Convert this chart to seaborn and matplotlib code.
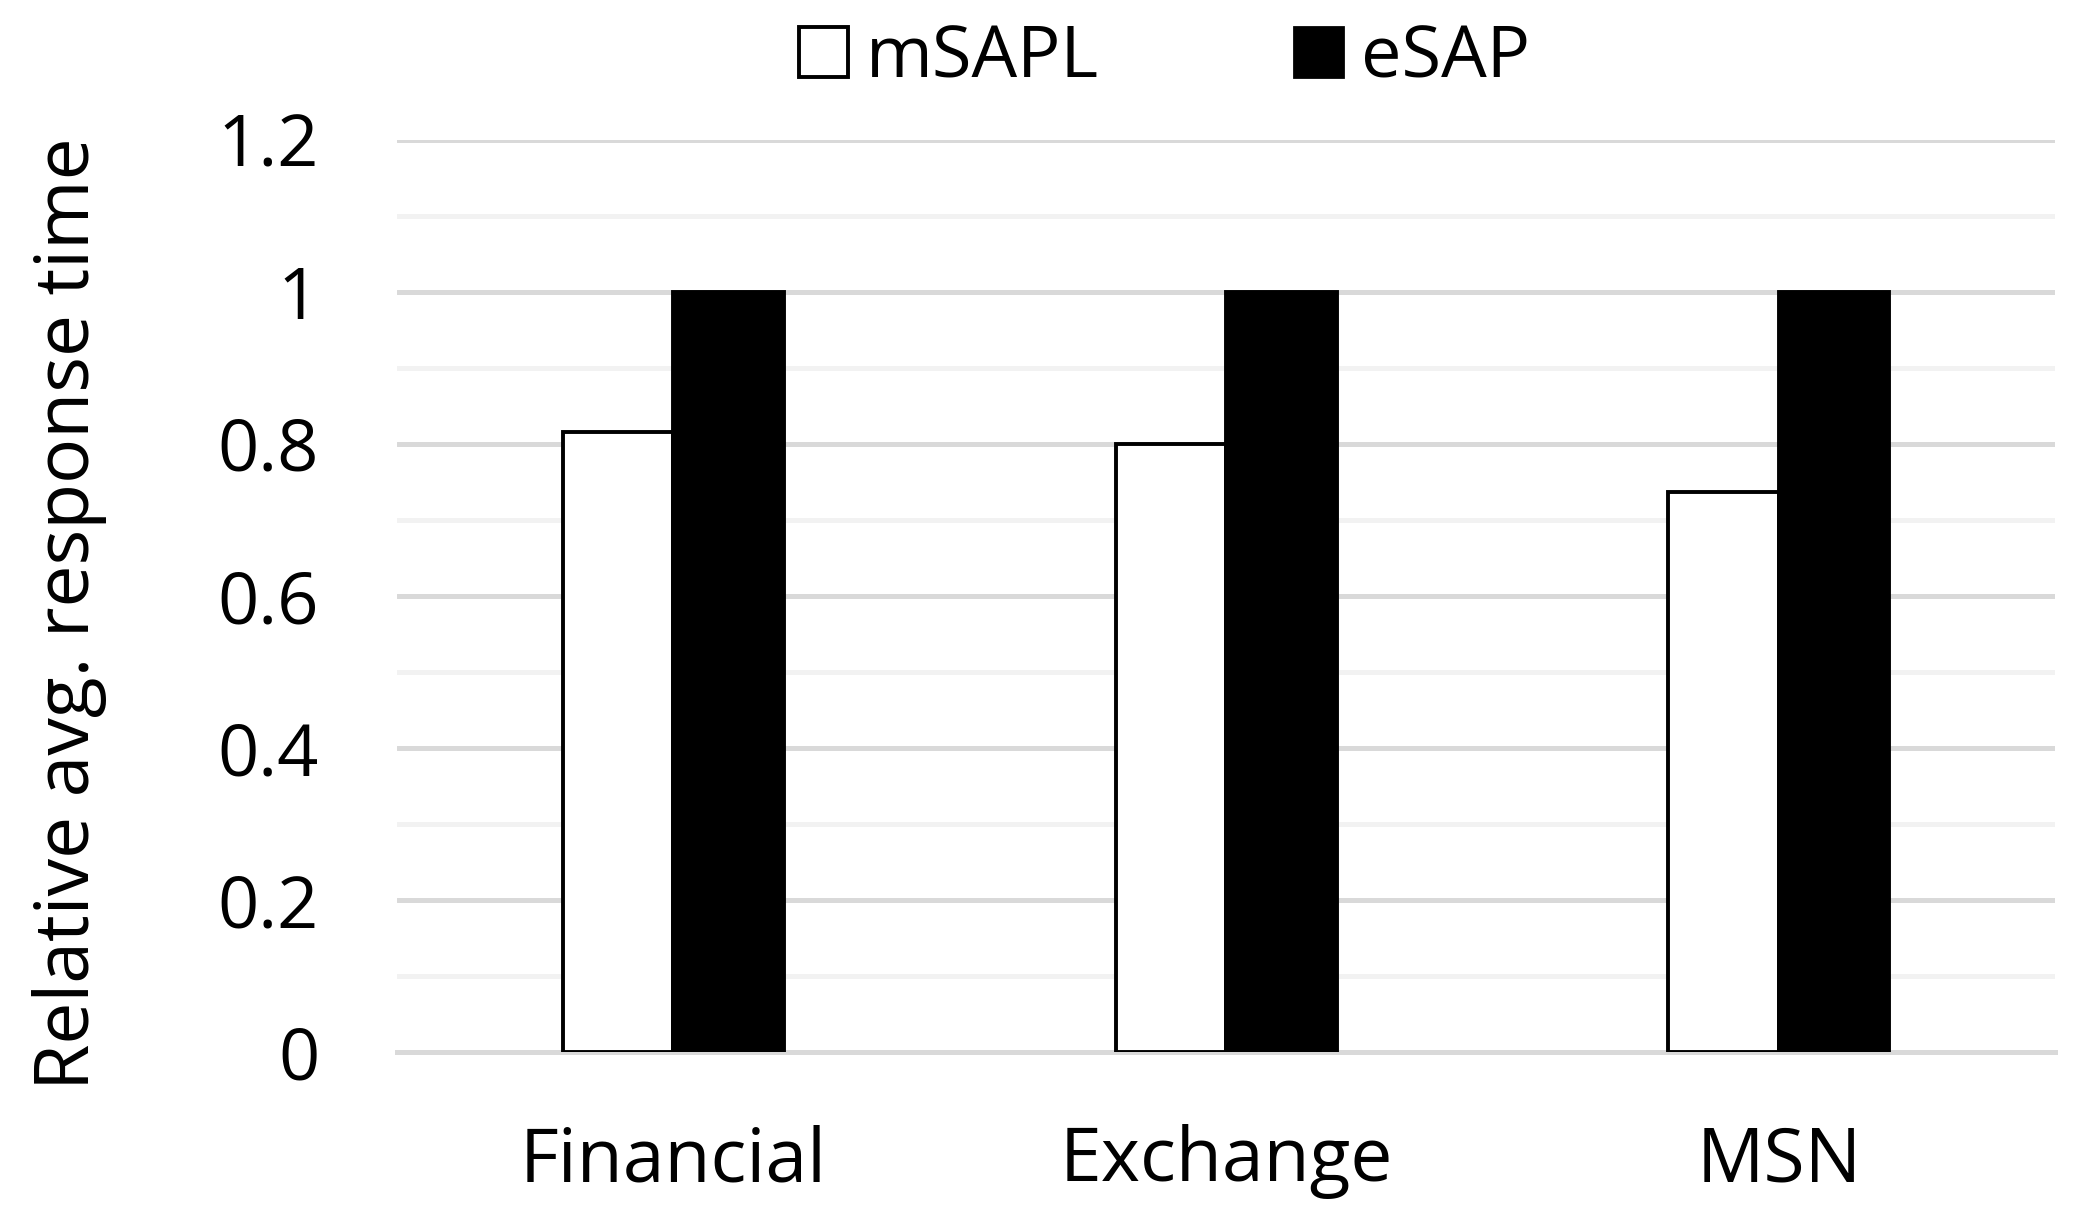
import pandas as pd
import numpy as np
import matplotlib
matplotlib.use("Agg")
import matplotlib.pyplot as plt
from matplotlib.ticker import MultipleLocator, FuncFormatter
from matplotlib.patches import Patch
import seaborn as sns

# data
workloads = ["Financial", "Exchange", "MSN"]
schemes = ["mSAPL", "eSAP"]
msapl = [0.816, 0.80, 0.737]
esap = [1.0, 1.0, 1.0]

df = pd.DataFrame({
    "Workload": workloads * 2,
    "Scheme": ["mSAPL"] * 3 + ["eSAP"] * 3,
    "Value": msapl + esap,
})

sns.set_style("white")
plt.rcParams["font.family"] = ["Open Sans", "DejaVu Sans"]
plt.rcParams["text.color"] = "black"
plt.rcParams["xtick.color"] = "black"
plt.rcParams["ytick.color"] = "black"
plt.rcParams["axes.labelcolor"] = "black"

fig = plt.figure(figsize=(10.475, 6.12), dpi=200)
ax = fig.add_axes([0.1895, 0.1405, 0.7915, 0.7455])

sns.barplot(data=df, x="Workload", y="Value", hue="Scheme",
            palette={"mSAPL": "white", "eSAP": "black"},
            edgecolor="black", linewidth=1.4, width=0.4,
            saturation=1, ax=ax, legend=False, zorder=3)

ax.set_xlim(-0.5, 2.5)
ax.set_ylim(0, 1.2)
ax.yaxis.set_major_locator(MultipleLocator(0.2))
ax.yaxis.set_minor_locator(MultipleLocator(0.1))
ax.yaxis.set_major_formatter(FuncFormatter(lambda v, p: "{:g}".format(round(v, 2))))
ax.grid(axis="y", which="major", color="#d9d9d9", linewidth=1.8, zorder=0)
ax.grid(axis="y", which="minor", color="#f2f2f2", linewidth=1.8, zorder=0)
ax.set_axisbelow(True)

for s in ["top", "right", "left"]:
    ax.spines[s].set_visible(False)
ax.spines["bottom"].set_color("#d9d9d9")
ax.spines["bottom"].set_linewidth(1.8)

ax.tick_params(axis="both", which="both", length=0, colors="black")
ax.tick_params(axis="y", labelsize=26, pad=28)
ax.tick_params(axis="x", labelsize=27, pad=26)

ax.set_xlabel("")
ax.set_ylabel("Relative avg. response time", fontsize=27, color="black")
ax.yaxis.set_label_coords(-0.175, 0.48)

handles = [Patch(facecolor="white", edgecolor="black", linewidth=1.4, label="mSAPL"),
           Patch(facecolor="black", edgecolor="black", label="eSAP")]
fig.legend(handles=handles, loc="center", bbox_to_anchor=(0.556, 0.952),
           ncol=2, frameon=False, fontsize=26, handlelength=0.68,
           handleheight=0.68, handletextpad=0.25, columnspacing=2.7,
           labelcolor="black")

fig.savefig("out.png", dpi=200, facecolor="white")
